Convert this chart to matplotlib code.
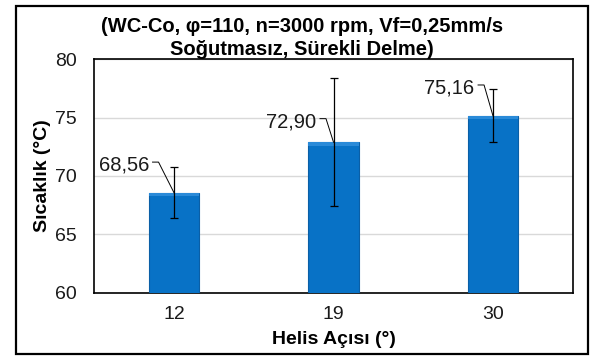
import matplotlib
matplotlib.use("Agg")
import matplotlib.pyplot as plt
from matplotlib.patches import Rectangle

plt.rcParams['font.family'] = ['Liberation Sans', 'DejaVu Sans']

# ---- data ----
categories = ["12", "19", "30"]
values = [68.56, 72.90, 75.16]
errors = [2.17, 5.51, 2.27]
labels = ["68,56", "72,90", "75,16"]

# ---- layout constants (pixels) ----
W, H = 590, 356
AX_L, AX_R, AX_T, AX_B = 94.3, 572.7, 59.3, 292.7
# value-label offsets relative to bar top: (text right edge dx, baseline dy) in pixels, y up
label_offsets_px = [(-25, 22.2), (-17, 15.0), (-18.4, 22.3)]

fig = plt.figure(figsize=(W / 100, H / 100), dpi=100)
ax = fig.add_axes([AX_L / W, 1 - AX_B / H, (AX_R - AX_L) / W, (AX_B - AX_T) / H])

x = list(range(len(categories)))
ax.set_ylim(60, 80)
ax.set_xlim(-0.5, 2.5)

ax.bar(x, values, width=0.314, color="#0872C6", edgecolor="#0A5FA6", linewidth=0.8, zorder=3)
# subtle lighter bevel at bar tops
ax.bar(x, [0.3] * len(values), bottom=[v - 0.3 for v in values], width=0.314,
       color="#2A8AD8", edgecolor="none", linewidth=0, zorder=3.1)
ax.errorbar(x, values, yerr=errors, fmt='none', ecolor='black', elinewidth=0.9,
            capsize=3, capthick=0.9, zorder=4)

ax.set_yticks([60, 65, 70, 75, 80])
ax.set_xticks(x)
ax.set_xticklabels(categories)
ax.tick_params(axis='both', length=0, labelsize=14, colors='#1a1a1a')
ax.tick_params(axis='x', pad=9.5)
ax.tick_params(axis='y', pad=12.5)
ax.yaxis.grid(True, color="#D9D9D9", linewidth=1.0, zorder=0)
ax.set_axisbelow(True)
for s in ax.spines.values():
    s.set_color('black')
    s.set_linewidth(1.2)

# value labels with leader lines
inv = ax.transData.inverted()
for xi, v, lab, (dx, dy) in zip(x, values, labels, label_offsets_px):
    bx, by = ax.transData.transform((xi, v))
    tx, ty = inv.transform((bx + dx, by + dy))
    ax.text(tx, ty, lab, ha='right', va='baseline', fontsize=14.5, color='#1a1a1a', zorder=5)
    ly = by + dy + 8.5
    p1 = inv.transform((bx + dx + 3.5, ly))
    p2 = inv.transform((bx + dx + 9.5, ly))
    ax.plot([p1[0], p2[0], xi], [p1[1], p2[1], v], color='black', linewidth=0.7,
            zorder=5, solid_joinstyle='miter')

ax.set_xlabel("Helis Açısı (°)", fontsize=14, fontweight='bold', labelpad=6)
ax.set_ylabel("Sıcaklık (°C)", fontsize=14, fontweight='bold', labelpad=3)

fig.text(302 / W, 1 - 31.7 / H, "(WC-Co, φ=110, n=3000 rpm, Vf=0,25mm/s", ha='center',
         va='baseline', fontsize=14.5, fontweight='bold')
fig.text(302 / W, 1 - 55 / H, "Soğutmasız, Sürekli Delme)", ha='center', va='baseline',
         fontsize=14.5, fontweight='bold')

fig.patches.append(Rectangle((15.5 / W, 1 - 353.5 / H), (588 - 15.5) / W, (353.5 - 5.5) / H,
                             transform=fig.transFigure, fill=False, edgecolor='black',
                             linewidth=1.6))

fig.savefig("out.png", dpi=100)
